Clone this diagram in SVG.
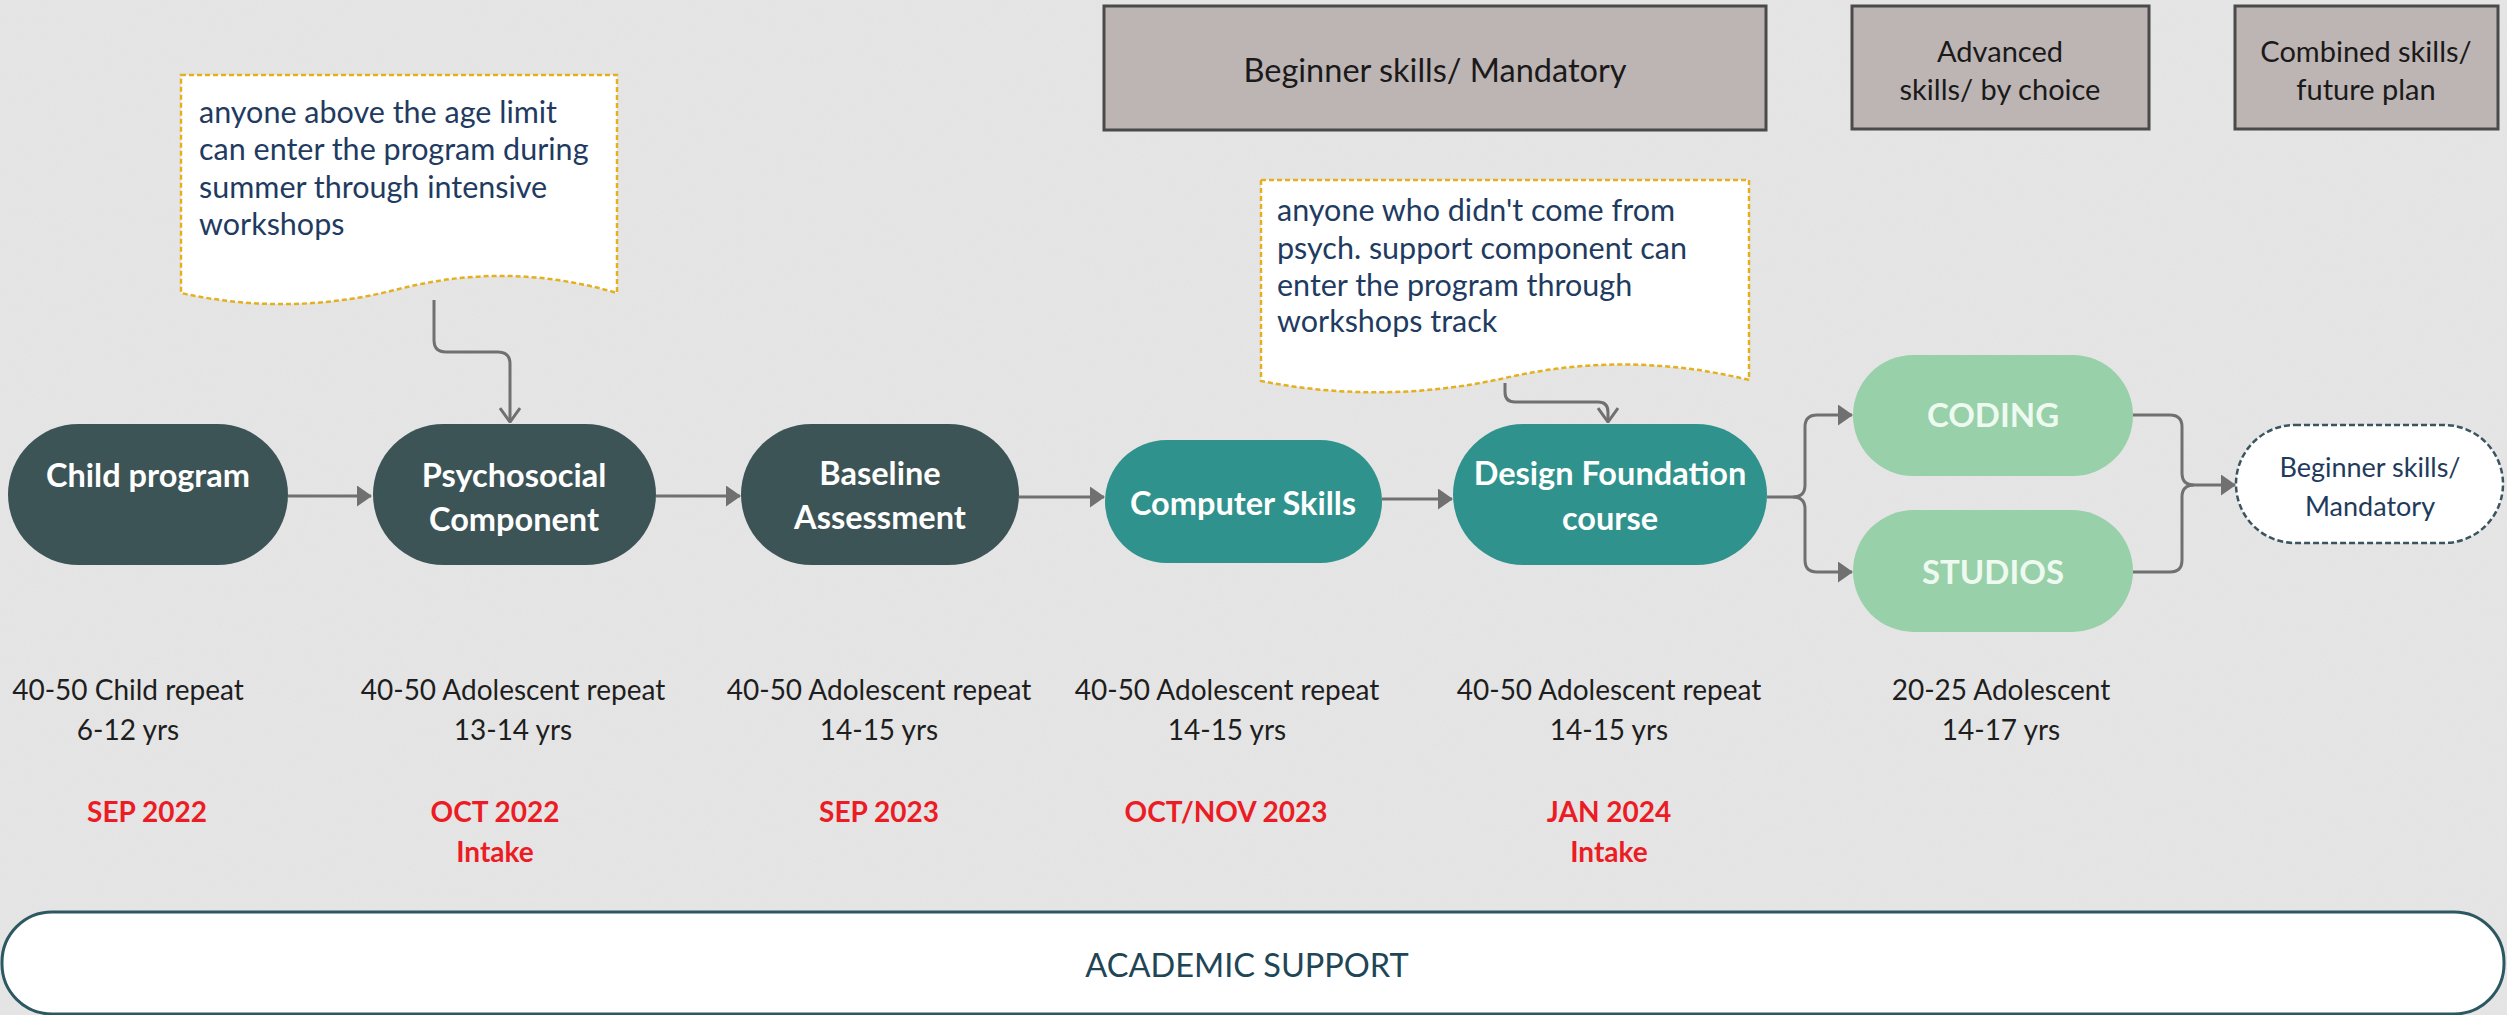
<svg xmlns="http://www.w3.org/2000/svg" width="2507" height="1015" viewBox="0 0 2507 1015">
<defs>
<style>
.bg{fill:#e7e7e7}
.dark{fill:#3d5457}
.teal{fill:#2f928d}
.green{fill:#97d0a9}
.nt{font-family:Lato,"Open Sans",sans-serif;font-weight:bold;font-size:32.5px;fill:#ffffff;text-anchor:middle}
.nt2{font-family:Lato,"Open Sans",sans-serif;font-weight:bold;font-size:33px;fill:#eefaf0;text-anchor:middle}
.hdr{fill:#bdb4b4;stroke:#4a4a4a;stroke-width:3}
.ht{font-family:Lato,"Open Sans",sans-serif;font-size:29px;fill:#1a1a1a;text-anchor:middle}
.ht1{font-family:Lato,"Open Sans",sans-serif;font-size:32.5px;fill:#1a1a1a;text-anchor:middle}
.note{fill:#ffffff;stroke:#e4b020;stroke-width:2.5;stroke-dasharray:5 3}
.nx{font-family:Lato,"Open Sans",sans-serif;font-size:30.5px;fill:#1f3b61}
.lb{font-family:Lato,"Open Sans",sans-serif;font-size:28px;fill:#1e1e1e;text-anchor:middle}
.rd{font-family:Lato,"Open Sans",sans-serif;font-weight:bold;font-size:28px;fill:#ec1c24;text-anchor:middle}
.edge{fill:none;stroke:#707070;stroke-width:3}
.dash{fill:#ffffff;stroke:#3a5560;stroke-width:2.5;stroke-dasharray:6 3}
.dt{font-family:Lato,"Open Sans",sans-serif;font-size:27px;fill:#1f3b5c;text-anchor:middle}
.acad{fill:#ffffff;stroke:#2c5862;stroke-width:3}
.at{font-family:Lato,"Open Sans",sans-serif;font-size:32.5px;fill:#1f4656;text-anchor:middle}
</style>
<filter id="grain" x="0" y="0" width="100%" height="100%">
<feTurbulence type="fractalNoise" baseFrequency="0.9" numOctaves="2" seed="4" result="n"/>
<feColorMatrix type="matrix" values="0 0 0 0 0.5  0 0 0 0 0.5  0 0 0 0 0.5  0 0 0 0.12 0"/>
</filter>
<marker id="block" viewBox="0 0 15 21" refX="14" refY="10.5" markerWidth="15" markerHeight="21" markerUnits="userSpaceOnUse" orient="auto">
<path d="M0,0 L15,10.5 L0,21 Z" fill="#707070"/>
</marker>
<marker id="open" viewBox="0 0 16 22" refX="15" refY="11" markerWidth="16" markerHeight="22" markerUnits="userSpaceOnUse" orient="auto">
<path d="M1,1 L15,11 L1,21" fill="none" stroke="#707070" stroke-width="3"/>
</marker>
</defs>
<rect class="bg" x="0" y="0" width="2507" height="1015"/>
<rect x="0" y="0" width="2507" height="1015" filter="url(#grain)"/>

<g id="connectors">
<path class="edge" d="M288,496 L371,496" marker-end="url(#block)"/>
<path class="edge" d="M656,496 L740,496" marker-end="url(#block)"/>
<path class="edge" d="M1019,497 L1104,497" marker-end="url(#block)"/>
<path class="edge" d="M1382,499 L1452,499" marker-end="url(#block)"/>
<path class="edge" d="M434,300 L434,340 Q434,352 446,352 L498,352 Q510,352 510,364 L510,422" marker-end="url(#open)"/>
<path class="edge" d="M1505,383 L1505,392 Q1505,402 1515,402 L1598,402 Q1608,402 1608,412 L1608,422" marker-end="url(#open)"/>
<path class="edge" d="M1767,497 L1793,497 Q1805,497 1805,485 L1805,427 Q1805,415 1817,415 L1852,415" marker-end="url(#block)"/>
<path class="edge" d="M1793,497 Q1805,497 1805,509 L1805,560 Q1805,572 1817,572 L1852,572" marker-end="url(#block)"/>
<path class="edge" d="M2133,415 L2170,415 Q2182,415 2182,427 L2182,473 Q2182,485 2194,485 L2235,485" marker-end="url(#block)"/>
<path class="edge" d="M2133,572 L2170,572 Q2182,572 2182,560 L2182,497 Q2182,485 2194,485"/>
</g>

<g id="hdr-beginner">
<rect class="hdr" x="1104" y="6" width="662" height="124"/>
<text class="ht1" x="1435" y="82">Beginner skills/ Mandatory</text>
</g>
<g id="hdr-advanced">
<rect class="hdr" x="1852" y="6" width="297" height="123"/>
<text class="ht" x="2000" y="62">Advanced</text>
<text class="ht" x="2000" y="100">skills/ by choice</text>
</g>
<g id="hdr-combined">
<rect class="hdr" x="2235" y="6" width="263" height="123"/>
<text class="ht" x="2366" y="62">Combined skills/</text>
<text class="ht" x="2366" y="100">future plan</text>
</g>

<g id="note-summer">
<path class="note" d="M181,75 L617,75 L617,293 Q508,261 399,289 Q290,317 181,293 Z"/>
<text class="nx" x="199" y="123">anyone above the age limit</text>
<text class="nx" x="199" y="160">can enter the program during</text>
<text class="nx" x="199" y="198">summer through intensive</text>
<text class="nx" x="199" y="235">workshops</text>
</g>
<g id="note-workshops">
<path class="note" d="M1261,180 L1749,180 L1749,380 Q1627,350 1505,378 Q1383,405 1261,381 Z"/>
<text class="nx" x="1277" y="221">anyone who didn't come from</text>
<text class="nx" x="1277" y="259">psych. support component can</text>
<text class="nx" x="1277" y="296">enter the program through</text>
<text class="nx" x="1277" y="332">workshops track</text>
</g>

<g id="n-child">
<rect class="dark" x="8" y="424" width="280" height="141" rx="70.5"/>
<text class="nt" x="148" y="487">Child program</text>
</g>
<g id="n-psych">
<rect class="dark" x="373" y="424" width="283" height="141" rx="70.5"/>
<text class="nt" x="514" y="487">Psychosocial</text>
<text class="nt" x="514" y="531">Component</text>
</g>
<g id="n-baseline">
<rect class="dark" x="741" y="424" width="278" height="141" rx="70.5"/>
<text class="nt" x="880" y="485">Baseline</text>
<text class="nt" x="880" y="529">Assessment</text>
</g>
<g id="n-computer">
<rect class="teal" x="1105" y="440" width="277" height="123" rx="61.5"/>
<text class="nt" x="1243" y="515">Computer Skills</text>
</g>
<g id="n-design">
<rect class="teal" x="1453" y="424" width="314" height="141" rx="70.5"/>
<text class="nt" x="1610" y="485">Design Foundation</text>
<text class="nt" x="1610" y="530">course</text>
</g>
<g id="n-coding">
<rect class="green" x="1853" y="355" width="280" height="121" rx="60.5"/>
<text class="nt2" x="1993" y="427">CODING</text>
</g>
<g id="n-studios">
<rect class="green" x="1853" y="510" width="280" height="122" rx="61"/>
<text class="nt2" x="1993" y="584">STUDIOS</text>
</g>
<g id="n-beginner-dashed">
<rect class="dash" x="2236" y="425" width="267" height="118" rx="59"/>
<text class="dt" x="2370" y="477">Beginner skills/</text>
<text class="dt" x="2370" y="516">Mandatory</text>
</g>

<g id="labels">
<text class="lb" x="128" y="700">40-50 Child repeat</text>
<text class="lb" x="128" y="740">6-12 yrs</text>
<text class="lb" x="513" y="700">40-50 Adolescent repeat</text>
<text class="lb" x="513" y="740">13-14 yrs</text>
<text class="lb" x="879" y="700">40-50 Adolescent repeat</text>
<text class="lb" x="879" y="740">14-15 yrs</text>
<text class="lb" x="1227" y="700">40-50 Adolescent repeat</text>
<text class="lb" x="1227" y="740">14-15 yrs</text>
<text class="lb" x="1609" y="700">40-50 Adolescent repeat</text>
<text class="lb" x="1609" y="740">14-15 yrs</text>
<text class="lb" x="2001" y="700">20-25 Adolescent</text>
<text class="lb" x="2001" y="740">14-17 yrs</text>
<text class="rd" x="147" y="822">SEP 2022</text>
<text class="rd" x="495" y="822">OCT 2022</text>
<text class="rd" x="495" y="862">Intake</text>
<text class="rd" x="879" y="822">SEP 2023</text>
<text class="rd" x="1226" y="822">OCT/NOV 2023</text>
<text class="rd" x="1609" y="822">JAN 2024</text>
<text class="rd" x="1609" y="862">Intake</text>
</g>

<g id="academic-support">
<rect class="acad" x="2" y="912" width="2502" height="102" rx="50"/>
<text class="at" x="1247" y="977">ACADEMIC SUPPORT</text>
</g>
</svg>
